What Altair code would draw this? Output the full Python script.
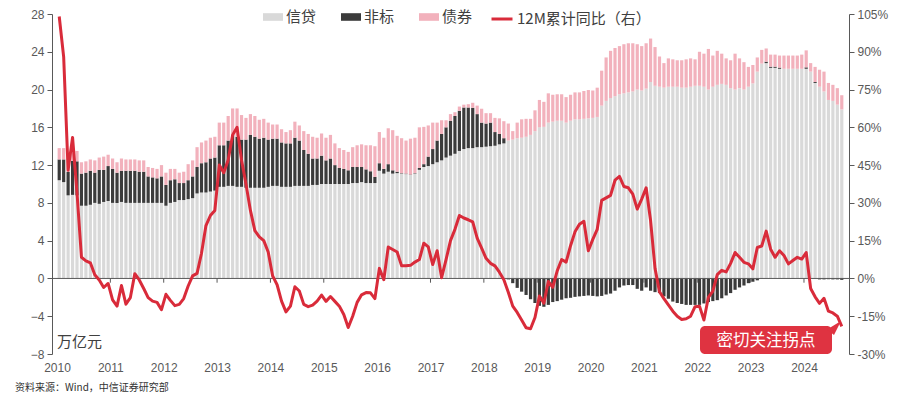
import altair as alt
import pandas as pd

# ---------------- data ----------------
YEARS = ['2010', '2011', '2012', '2013', '2014', '2015', '2016', '2017',
         '2018', '2019', '2020', '2021', '2022', '2023', '2024']
SERIES = ['信贷', '非标', '债券']
SERIES_COLORS = ['#D9D9D9', '#3B3B3B', '#F2B1BC']
LINE_NAME = '12M累计同比（右）'
LINE_COLOR = '#D92B3A'
BOX_COLOR = '#DF3341'

# 万亿元, monthly from 2010-01 to 2024-09
XINDAI = [
    10.4, 10.2, 8.8, 8.85, 8.8, 7.7, 7.7, 7.8, 8.0, 7.9, 8.1, 8.2,
    8.0, 8.0, 8.1, 8.0, 8.0, 8.0, 8.0, 8.0, 8.0, 8.0, 8.0, 8.0,
    7.7, 8.0, 8.1, 8.3, 8.3, 8.4, 8.5, 9.0, 9.1, 9.1, 9.2, 9.3,
    9.7, 9.7, 9.8, 9.8, 9.7, 9.7, 9.6, 9.6, 9.6, 9.6, 9.6, 9.7,
    9.8, 9.8, 9.7, 9.7, 9.7, 9.8, 9.8, 9.8, 9.8, 9.9, 9.9, 10.0,
    10.0, 10.0, 10.0, 10.0, 10.0, 10.0, 10.1, 10.1, 10.2, 10.1, 10.1, 10.1,
    11.4, 11.1, 11.3, 11.1, 11.15, 11.1, 11.05, 10.95, 11.1, 11.5, 11.8, 11.9,
    12.1, 12.3, 12.5, 12.8, 13.0, 13.2, 13.5, 13.7, 13.8, 13.8, 13.9, 13.9,
    13.95, 14.0, 14.05, 14.2, 14.3, 14.6, 14.7, 14.85, 14.9, 15.0, 15.2, 15.6,
    16.0, 16.05, 16.5, 16.6, 16.7, 16.7, 16.5, 16.7, 16.85, 16.85, 16.9, 16.95,
    17.0, 17.1, 18.3, 18.8, 19.1, 19.3, 19.5, 19.6, 19.7, 19.8, 20.0, 19.9,
    20.1, 20.8, 20.4, 20.3, 20.2, 20.3, 20.3, 20.3, 20.2, 20.2, 20.3, 20.4,
    20.4, 20.3, 20.0, 20.3, 20.5, 20.6, 20.5, 20.15, 20.0, 20.15, 20.0, 20.3,
    20.65, 21.9, 22.75, 22.8, 22.3, 22.3, 22.2, 22.2, 22.2, 22.2, 22.2, 22.2,
    22.2, 21.9, 20.7, 20.3, 19.8, 18.9, 18.8, 18.4, 17.9,
]
FEIBIAO = [
    2.2, 2.4, 2.5, 3.6, 3.6, 3.4, 3.5, 3.6, 3.2, 3.6, 3.4, 3.7,
    3.6, 3.2, 3.3, 3.4, 3.4, 3.4, 3.3, 3.3, 2.8, 2.7, 2.6, 2.8,
    2.2, 2.4, 2.4, 1.8, 1.8, 2.0, 2.3, 2.8, 3.1, 3.2, 3.5, 3.5,
    4.4, 4.4, 4.8, 5.4, 5.3, 5.0, 5.1, 5.6, 5.4, 5.2, 5.3, 5.0,
    5.0, 5.0, 4.7, 4.6, 4.6, 5.1, 4.8, 3.8, 3.4, 2.8, 2.8, 3.0,
    2.5, 2.7, 2.0, 1.7, 1.6, 1.45, 1.7, 1.7, 1.6, 1.45, 1.25, 0.65,
    0.8, 0.5, 0.8, 0.35, 0.15, 0.05, 0.05, 0.05, 0.05, 0.2, 0.3, 1.0,
    1.6, 2.3, 2.8, 3.2, 3.7, 4.0, 4.25, 4.4, 4.3, 4.27, 3.5, 2.6,
    2.45, 2.5, 1.45, 1.1, 0.55, -0.1, -0.5, -1.0, -1.4, -1.75, -2.2, -2.6,
    -2.9, -3.0, -2.8, -2.5, -2.4, -2.25, -2.1, -2.05, -1.95, -1.9, -1.85, -1.8,
    -1.85, -1.9, -1.85, -1.7, -1.6, -1.3, -0.95, -0.75, -0.7, -0.7, -1.1, -1.3,
    -0.95, -1.3, -1.45, -1.55, -1.9, -2.15, -2.45, -2.6, -2.7, -2.8, -2.8, -2.8,
    -2.8, -2.65, -2.5, -2.4, -2.3, -2.1, -1.8, -1.55, -1.2, -0.95, -0.75, -0.5,
    -0.35, -0.2, 0.0, 0.15, 0.12, 0.12, 0.12, 0.0, 0.0, -0.03, 0.0, 0.0,
    0.15, 0.0, 0.1, -0.1, -0.1, -0.08, -0.1, -0.1, -0.15,
]
ZHAIQUAN = [
    1.2, 1.2, 1.9, 1.05, 1.1, 1.2, 1.2, 1.2, 1.3, 1.3, 1.4, 1.2,
    1.1, 1.1, 1.3, 1.2, 1.2, 1.2, 1.2, 1.2, 1.0, 1.0, 1.0, 1.2,
    1.3, 1.2, 1.1, 1.1, 1.2, 1.7, 1.7, 2.1, 2.2, 2.3, 2.2, 2.2,
    2.4, 2.4, 2.6, 2.8, 3.0, 2.6, 2.3, 2.2, 2.2, 2.0, 2.0, 1.8,
    1.5, 1.5, 1.4, 1.2, 1.4, 1.7, 1.6, 2.0, 2.1, 2.3, 2.2, 2.35,
    2.4, 2.5, 2.3, 2.1, 2.0, 1.95, 2.1, 2.3, 2.4, 2.55, 2.75, 3.25,
    3.3, 3.3, 3.8, 4.25, 3.8, 3.7, 3.5, 3.8, 3.75, 4.3, 3.95, 3.3,
    2.8, 1.9, 1.45, 0.75, 0.7, 0.4, 0.45, 0.3, 0.35, 0.53, 0.9, 1.47,
    1.1, 1.0, 1.5, 1.65, 1.8, 1.8, 0.9, 1.65, 1.95, 1.9, 1.7, 2.2,
    2.9, 2.65, 3.1, 2.85, 2.8, 2.8, 2.7, 2.75, 2.85, 2.85, 2.95, 3.0,
    2.9, 3.1, 3.7, 4.6, 5.0, 5.1, 5.1, 5.2, 5.2, 5.1, 4.8, 4.7,
    4.8, 4.6, 4.1, 3.2, 2.6, 3.0, 2.9, 2.8, 2.9, 3.0, 3.0, 2.8,
    3.6, 3.5, 4.3, 3.3, 3.6, 3.2, 2.8, 2.95, 3.8, 3.15, 2.9, 2.1,
    1.95, 1.5, 1.45, 1.4, 1.28, 1.28, 1.28, 1.4, 1.4, 1.4, 1.4, 1.5,
    1.8, 0.9, 1.6, 1.8, 2.1, 1.8, 1.7, 1.75, 1.5,
]
# 12M累计同比, %
YOY = [
    104, 88, 43, 56, 34, 8.4, 7.0, 6.2, 1.5, -0.6, -3.6, -2.0,
    -8.5, -11.0, -2.8, -10.2, -7.6, 1.9, -0.6, -4.0, -7.6, -9.0, -9.5, -12.4,
    -6.3, -8.7, -10.8, -10.3, -8.0, -3.0, 1.0, 2.0, 10.0, 21.0, 25.0, 27.0,
    45.0, 42.0, 47.0, 57.0, 60.0, 47.0, 37.5, 27.0, 19.0, 16.5, 15.0, 10.5,
    1.0, -2.5, -9.0, -13.3, -11.0, -3.3, -5.0, -10.3, -11.2, -10.6, -9.0, -6.6,
    -9.1, -7.2, -9.1, -11.0, -14.3, -19.5, -15.0, -9.5, -6.5, -5.6, -5.7, -8.0,
    4.0, -0.5, 12.5, 11.5, 10.5, 5.0, 5.0, 5.2, 6.5, 7.5, 14.0, 12.5,
    5.5, 11.0, 0.3, 7.5, 15.0, 19.5, 25.0, 24.0, 23.3, 22.5, 16.0, 12.0,
    8.0, 6.0, 5.0, 2.5, -0.5, -5.5, -11.0, -13.5, -16.5, -19.6, -20.0, -15.5,
    -7.0, -9.8, -1.2, -3.5, 3.0, 7.5, 6.5, 13.0, 18.5, 21.5, 22.7, 11.0,
    15.5, 19.5, 31.0, 32.0, 33.0, 39.0, 40.5, 36.5, 36.0, 33.5, 27.5, 31.5,
    36.0, 23.0, 4.0, -5.3, -8.0, -10.5, -13.0, -15.0, -16.3, -16.0, -15.0, -11.2,
    -11.0, -16.5, -7.5, -5.0, 1.5, 3.2, 2.6, 6.0, 10.3, 8.4, 6.4, 5.8,
    3.8, 12.3, 12.9, 18.8, 11.6, 8.4, 11.0, 9.1, 5.8, 7.1, 8.4, 7.7,
    10.3, -4.0, -7.3, -9.9, -7.9, -13.0, -13.7, -15.0, -19.0,
]

LEFT_TICKS = [-8, -4, 0, 4, 8, 12, 16, 20, 24, 28]
RIGHT_TICKS = [-30, -15, 0, 15, 30, 45, 60, 75, 90, 105]
UNIT_LABEL = '万亿元'
SOURCE_LABEL = '资料来源：Wind，中信证券研究部'
NOTE_LABEL = '密切关注拐点'

# ---------------- tables ----------------
n = len(XINDAI)
assert len(FEIBIAO) == n and len(ZHAIQUAN) == n and len(YOY) == n

rows = []
for i in range(n):
    for k, (name, vals) in enumerate(zip(SERIES, [XINDAI, FEIBIAO, ZHAIQUAN])):
        rows.append({'idx': i, 'series': name, 'val': vals[i], 'ord': k})
bar_df = pd.DataFrame(rows)
line_df = pd.DataFrame({'idx': list(range(n)), 'yoy': YOY, 'name': LINE_NAME})
year_pos = [12 * k - 0.5 for k in range(len(YEARS))]
tick_df = pd.DataFrame({'idx': year_pos[1:], 'val': 0.0, 'val2': -0.45})
zero_df = pd.DataFrame({'val': [0.0]})
one = pd.DataFrame({'a': [0]})

AX = '#595959'
NUM_FONT = 'Liberation Sans'
CJK_FONT = 'Noto Sans CJK SC'

label_js = '[' + ','.join("'%s'" % y for y in YEARS) + '][round((datum.value + 0.5) / 12)]'

x_enc = alt.X(
    'idx:Q',
    scale=alt.Scale(domain=[-0.5, n - 0.5], nice=False, zero=False),
    axis=alt.Axis(values=year_pos, labelExpr=label_js, domain=False, ticks=False,
                  grid=False, labelPadding=8, labelFlush=False, labelOverlap=False,
                  labelColor=AX, labelFontSize=12, labelFont=NUM_FONT, title=None),
)
y_left = alt.Y(
    'val:Q',
    scale=alt.Scale(domain=[LEFT_TICKS[0], LEFT_TICKS[-1]], nice=False, zero=False),
    axis=alt.Axis(values=LEFT_TICKS, grid=False, tickSize=5, domainColor=AX, tickColor=AX,
                  labelColor=AX, labelFontSize=12, labelFont=NUM_FONT, labelPadding=3,
                  title=None),
)

bars = alt.Chart(bar_df).mark_bar(width=3.2).encode(
    x=x_enc,
    y=y_left,
    color=alt.Color(
        'series:N',
        scale=alt.Scale(domain=SERIES, range=SERIES_COLORS),
        legend=alt.Legend(orient='none', legendX=211, legendY=-7, direction='horizontal',
                          title=None, labelFontSize=15, labelFont=CJK_FONT,
                          labelColor='#404040',
                          symbolType='M-1,-1M1,1M-1,-0.38H1V0.38H-1Z',
                          symbolSize=400, symbolStrokeWidth=0, symbolOpacity=1,
                          columnPadding=24, labelOffset=3, labelLimit=300, padding=0),
    ),
    order=alt.Order('ord:Q'),
)

zero_rule = alt.Chart(zero_df).mark_rule(color=AX, strokeWidth=1).encode(y=y_left)
year_ticks = alt.Chart(tick_df).mark_rule(color=AX, strokeWidth=1).encode(
    x=x_enc, y=y_left, y2='val2:Q')

unit_text = alt.Chart(one).mark_text(
    text=UNIT_LABEL, align='left', baseline='middle', fontSize=15, font=CJK_FONT,
    color='#404040').encode(x=alt.value(5), y=alt.value(328))
source_text = alt.Chart(one).mark_text(
    text=SOURCE_LABEL, align='left', baseline='middle', fontSize=10, font=CJK_FONT,
    color='#333333').encode(x=alt.value(-37), y=alt.value(374))

left = alt.layer(bars, zero_rule, year_ticks, unit_text, source_text)

line = alt.Chart(line_df).mark_line(strokeWidth=3, strokeJoin='round').encode(
    x=x_enc,
    y=alt.Y('yoy:Q',
            scale=alt.Scale(domain=[RIGHT_TICKS[0], RIGHT_TICKS[-1]], nice=False, zero=False),
            axis=alt.Axis(orient='right', values=RIGHT_TICKS, labelExpr="datum.value + '%'",
                          grid=False, tickSize=5, domainColor=AX, tickColor=AX,
                          labelColor=AX, labelFontSize=12, labelFont=NUM_FONT,
                          labelPadding=3, title=None)),
    stroke=alt.Stroke('name:N', scale=alt.Scale(domain=[LINE_NAME], range=[LINE_COLOR]),
                      legend=alt.Legend(orient='none', legendX=438, legendY=-7, title=None,
                                        labelFontSize=15, labelFont=CJK_FONT,
                                        labelColor='#404040', symbolType='stroke',
                                        symbolStrokeWidth=3, symbolSize=441,
                                        labelOffset=3, labelLimit=300, padding=0)),
)

box = alt.Chart(one).mark_rect(color=BOX_COLOR, cornerRadius=5).encode(
    x=alt.value(648), x2=alt.value(780), y=alt.value(312), y2=alt.value(340))
tail = alt.Chart(one).mark_point(shape='M-1,0.2L1,-1L0,1Z', filled=True, size=196,
                                 color=BOX_COLOR, opacity=1).encode(
    x=alt.value(782), y=alt.value(314))
box_text = alt.Chart(one).mark_text(
    text=NOTE_LABEL, align='center', baseline='middle', fontSize=16.5, font=CJK_FONT,
    color='white').encode(x=alt.value(714), y=alt.value(327))
annot = alt.layer(box, tail, box_text)

chart = alt.layer(left, line, annot).resolve_scale(y='independent').properties(
    width=797, height=340,
    padding={'left': 44, 'top': 6, 'right': 40, 'bottom': 44},
    autosize=alt.AutoSizeParams(type='none'),
).configure_view(stroke='transparent')

chart.save('out.html', embed_options={'renderer': 'svg', 'actions': False})
